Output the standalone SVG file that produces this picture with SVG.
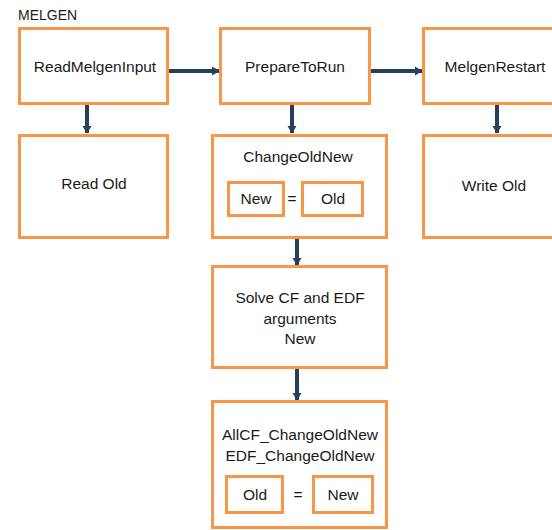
<svg xmlns="http://www.w3.org/2000/svg" width="552" height="530" viewBox="0 0 552 530">
  <style>
    .box { fill: #ffffff; stroke: #F79646; stroke-width: 3; }
    .lbl { font-family: "Liberation Sans", Arial, sans-serif; font-size: 15.5px; fill: #1a1a1a; text-anchor: middle; }
    .title { font-family: "Liberation Sans", Arial, sans-serif; font-size: 14px; fill: #1a1a1a; }
    .flow { stroke: #243F60; stroke-width: 4; fill: none; marker-end: url(#head); }
  </style>
  <defs>
    <marker id="head" markerUnits="userSpaceOnUse" markerWidth="10" markerHeight="10" refX="7" refY="5" orient="auto">
      <path d="M0,0.5 L7.5,5 L0,9.5 Z" fill="#243F60"/>
    </marker>
  </defs>
  <rect width="552" height="530" fill="#ffffff"/>

  <text class="title" x="18" y="20">MELGEN</text>

  <g id="connectors">
    <line class="flow" x1="168" y1="71" x2="219" y2="71"/>
    <line class="flow" x1="371" y1="71" x2="422" y2="71"/>
    <line class="flow" x1="87" y1="104" x2="87" y2="133"/>
    <line class="flow" x1="292" y1="104" x2="292" y2="133"/>
    <line class="flow" x1="497" y1="104" x2="497" y2="133"/>
    <line class="flow" x1="297" y1="238" x2="297" y2="265"/>
    <line class="flow" x1="297" y1="368" x2="297" y2="400"/>
  </g>

  <g id="readMelgenInput">
    <rect class="box" x="19.5" y="28.5" width="148" height="75"/>
    <text class="lbl" x="95" y="72">ReadMelgenInput</text>
  </g>

  <g id="readOld">
    <rect class="box" x="19.5" y="135.5" width="148" height="102"/>
    <text class="lbl" x="94" y="189">Read Old</text>
  </g>

  <g id="prepareToRun">
    <rect class="box" x="220.5" y="28.5" width="149" height="75"/>
    <text class="lbl" x="295" y="72">PrepareToRun</text>
  </g>

  <g id="melgenRestart">
    <rect class="box" x="423.5" y="28.5" width="140" height="75"/>
    <text class="lbl" x="495" y="72">MelgenRestart</text>
  </g>

  <g id="changeOldNew">
    <rect class="box" x="212.5" y="135.5" width="174" height="102"/>
    <text class="lbl" x="298" y="162">ChangeOldNew</text>
    <rect class="box" x="228.5" y="182.5" width="55" height="33"/>
    <text class="lbl" x="256" y="204">New</text>
    <text class="lbl" x="292" y="204">=</text>
    <rect class="box" x="302.5" y="182.5" width="60" height="33"/>
    <text class="lbl" x="333" y="204">Old</text>
  </g>

  <g id="writeOld">
    <rect class="box" x="423.5" y="135.5" width="140" height="102"/>
    <text class="lbl" x="494" y="191">Write Old</text>
  </g>

  <g id="solveArguments">
    <rect class="box" x="212.5" y="266.5" width="174" height="101"/>
    <text class="lbl" x="300" y="303">Solve CF and EDF</text>
    <text class="lbl" x="300" y="324">arguments</text>
    <text class="lbl" x="300" y="344">New</text>
  </g>

  <g id="allChangeOldNew">
    <rect class="box" x="212.5" y="401.5" width="174" height="126"/>
    <text class="lbl" x="300" y="440">AllCF_ChangeOldNew</text>
    <text class="lbl" x="300" y="461">EDF_ChangeOldNew</text>
    <rect class="box" x="226.5" y="476.5" width="56" height="36"/>
    <text class="lbl" x="255" y="500">Old</text>
    <text class="lbl" x="298" y="500">=</text>
    <rect class="box" x="313.5" y="476.5" width="59" height="36"/>
    <text class="lbl" x="343" y="500">New</text>
  </g>
</svg>
